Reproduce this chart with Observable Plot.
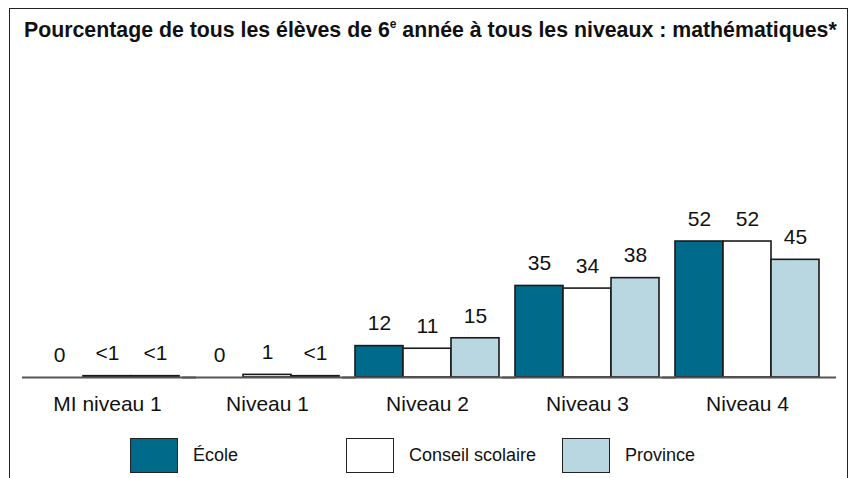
<!DOCTYPE html>
<html><head><meta charset="utf-8">
<script src="https://cdn.jsdelivr.net/npm/d3@7"></script>
<script src="https://cdn.jsdelivr.net/npm/@observablehq/plot@0.6"></script>
<style>
html,body{margin:0;padding:0;background:#fff;overflow:hidden;}
body{width:854px;height:478px;position:relative;font-family:"Liberation Sans",Arial,sans-serif;}
#frame{position:absolute;left:9px;top:8px;width:839px;height:490px;border:1.5px solid #222;box-sizing:border-box;}
#title{position:absolute;left:24px;top:18px;font-weight:bold;font-size:21.3px;color:#111;white-space:nowrap;}
#title sup{font-size:12px;position:relative;top:-1px;}
#chart{position:absolute;left:0;top:0;}
.leg{position:absolute;top:438px;height:35px;display:flex;align-items:center;font-size:18px;color:#111;}
.leg .box{width:48px;height:35px;border:1.5px solid #222;box-sizing:border-box;margin-right:15px;}
</style></head>
<body>
<div id="frame"></div>
<div id="title">Pourcentage de tous les élèves de 6<sup>e</sup> année à tous les niveaux : mathématiques*</div>
<div id="chart"></div>
<div id="legend"></div>
<script>
const niveaux = ["MI niveau 1", "Niveau 1", "Niveau 2", "Niveau 3", "Niveau 4"];
const series = ["École", "Conseil scolaire", "Province"];
const ecole = [0, 0, 12, 35, 52];
const conseil = [0.5, 1, 11, 34, 52];
const province = [0.5, 0.5, 15, 38, 45];
const ecoleLabels = ["0", "0", "12", "35", "52"];
const conseilLabels = ["<1", "1", "11", "34", "52"];
const provinceLabels = ["<1", "<1", "15", "38", "45"];
const colors = ["#006a8a", "#ffffff", "#b8d7e1"];
const legendLeft = [130, 346, 562];

const values = [ecole, conseil, province];
const labels = [ecoleLabels, conseilLabels, provinceLabels];
const data = [];
niveaux.forEach((n, i) => series.forEach((s, j) => data.push({niveau: n, serie: s, value: values[j][i], label: labels[j][i]})));

const chart = Plot.plot({
  width: 854, height: 420,
  marginLeft: 27, marginRight: 27, marginTop: 167.8, marginBottom: 43,
  style: {fontFamily: "Liberation Sans, Arial, sans-serif", fontSize: "21px", color: "#111", background: "transparent", overflow: "visible"},
  fx: {domain: niveaux, padding: 0, label: null},
  x: {domain: series, paddingInner: 0, paddingOuter: 0.144, axis: null},
  y: {domain: [0, 80], axis: null},
  color: {domain: series, range: colors},
  marks: [
    Plot.barY(data, {fx: "niveau", x: "serie", y: "value", fill: "serie", stroke: "#1a1a1a", strokeWidth: 1.6}),
    Plot.ruleY([0], {stroke: "#555", strokeWidth: 2, insetLeft: -5, insetRight: -9}),
    Plot.text(data, {fx: "niveau", x: "serie", y: "value", text: "label", dy: -22.5, fontSize: 21, fill: "#111"}),
    Plot.axisFx({anchor: "bottom", tickSize: 0, tickPadding: 19, label: null, fontSize: 21})
  ]
});
document.getElementById("chart").appendChild(chart);

const leg = document.getElementById("legend");
series.forEach((s, j) => {
  const d = document.createElement("div");
  d.className = "leg";
  d.style.left = legendLeft[j] + "px";
  d.innerHTML = `<div class="box" style="background:${colors[j]}"></div><span>${s}</span>`;
  leg.appendChild(d);
});
</script>
</body></html>
